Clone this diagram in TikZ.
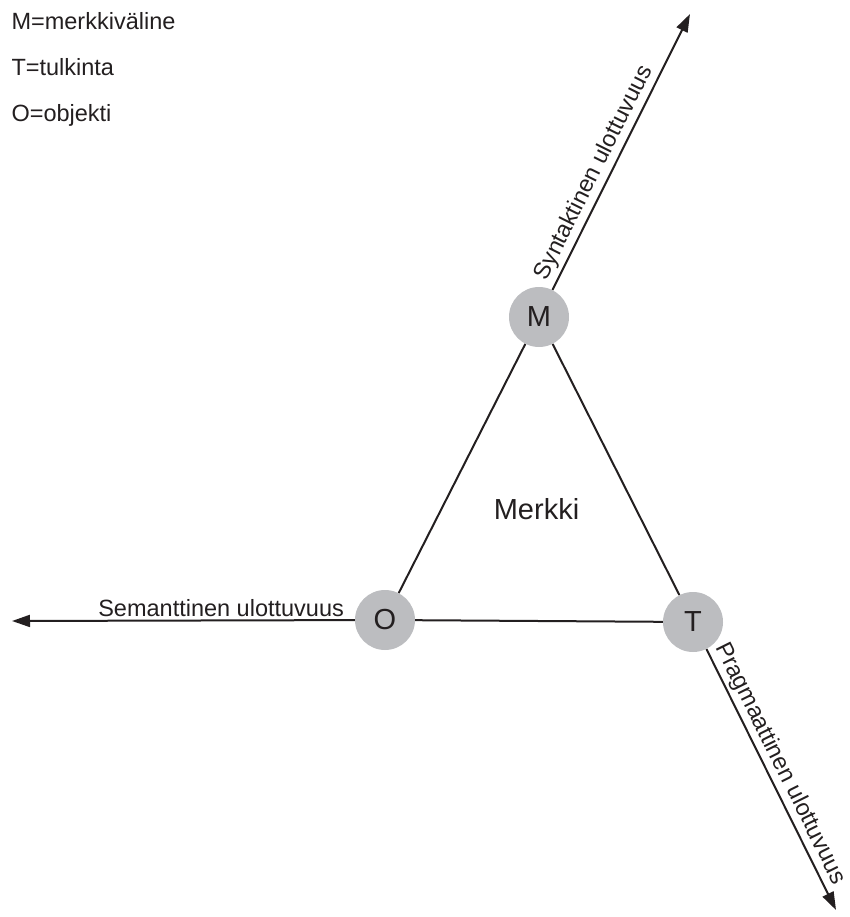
\documentclass[tikz,border=0pt]{standalone}
\usepackage{fontspec}
\setmainfont{Liberation Sans}
\usetikzlibrary{arrows.meta}
\definecolor{dotgray}{RGB}{188,189,192}
\definecolor{ink}{RGB}{35,31,32}
\begin{document}
\begin{tikzpicture}[x=1pt, y=-1pt, font=\fontsize{23.5}{28}\selectfont, text=ink]
  \tikzstyle{corner} = [circle, minimum size=60pt, inner sep=0pt, fill=dotgray, text centered, font=\fontsize{29}{34}\selectfont]
  \tikzstyle{edge} = [line width=2pt, draw=ink]
  \tikzstyle{arrow} = [line width=2pt, draw=ink, ->, >={Triangle[length=18pt, width=12pt]}]
  \useasboundingbox (0,0) rectangle (850,917);

  \node (legm) [anchor=base west] at (8,29.5) {M=merkkiväline};
  \node (legt) [anchor=base west] at (8,75.5) {T=tulkinta};
  \node (lego) [anchor=base west] at (8,121.5) {O=objekti};

  \node (m) [corner] at (539,317) {M};
  \node (o) [corner] at (385,620) {O};
  \node (t) [corner] at (693,622) {T};
  \node (sign) [font=\fontsize{29}{34}\selectfont] at (536.5,509.5) {Merkki};

  \coordinate (synend) at (690,14);
  \coordinate (semend) at (12,621);
  \coordinate (pragend) at (836,910);

  \draw [edge] (m) -- (o);
  \draw [edge] (m) -- (t);
  \draw [edge] (o) -- (t);
  \draw [arrow] (m) -- (synend) node [pos=0.4, sloped, above, inner sep=3pt] {Syntaktinen ulottuvuus};
  \draw [arrow] (o) -- (semend) node [pos=0.39, above, inner sep=3pt] {Semanttinen ulottuvuus};
  \draw [arrow] (t) -- (pragend) node [pos=0.465, sloped, above, inner sep=3pt] {Pragmaattinen ulottuvuus};
\end{tikzpicture}
\end{document}
